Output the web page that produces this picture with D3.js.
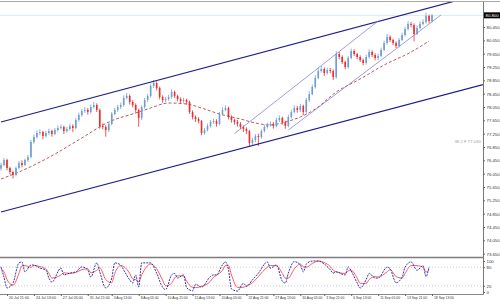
<!DOCTYPE html>
<html>
<head>
<meta charset="utf-8">
<script src="https://cdn.jsdelivr.net/npm/d3@7"></script>
<style>
  body { margin: 0; background: #fff; }
  svg { display: block; font-family: "Liberation Sans", Arial, sans-serif; }
  .axis text { font-size: 4.3px; fill: #333; }
  .axis line { stroke: #666; }
</style>
</head>
<body>
<div id="chart"></div>
<script>
"use strict";

// 4h candles (open of each bar is the previous close)
var firstOpen = 76.20;
var closes = [
  76.31, 76.46, 76.22, 76.10, 76.01, 76.22, 76.37, 76.31, 76.46, 76.55,
  77.00, 77.15, 77.27, 77.30, 77.18, 77.27, 77.33, 77.24, 77.36, 77.42,
  77.45, 77.33, 77.39, 77.48, 77.42, 77.66, 77.81, 77.93, 77.96, 77.90,
  78.05, 78.11, 77.96, 77.48, 77.45, 77.36, 77.54, 77.84, 77.96, 78.05,
  78.11, 78.32, 78.38, 78.20, 78.11, 77.96, 77.72, 78.05, 78.26, 78.38,
  78.68, 78.77, 78.62, 78.35, 78.26, 78.29, 78.35, 78.50, 78.38, 78.29,
  78.23, 78.26, 78.20, 77.90, 77.75, 77.69, 77.63, 77.27, 77.36, 77.48,
  77.60, 77.63, 77.54, 77.84, 77.96, 78.02, 77.75, 77.66, 77.60, 77.54,
  77.45, 77.39, 77.33, 76.97, 77.06, 77.18, 77.15, 77.33, 77.45, 77.51,
  77.54, 77.48, 77.66, 77.72, 77.60, 77.48, 77.75, 77.90, 78.02, 77.96,
  78.08, 77.90, 78.26, 78.44, 78.65, 78.92, 79.13, 79.19, 79.07, 79.16,
  79.13, 78.95, 79.64, 79.55, 79.40, 79.25, 79.52, 79.73, 79.64, 79.55,
  79.46, 79.37, 79.55, 79.70, 79.61, 79.52, 79.58, 79.76, 79.97, 80.15,
  80.06, 79.97, 79.88, 80.06, 80.21, 80.39, 80.54, 80.51, 80.24, 80.42,
  80.54, 80.60, 80.78, 80.63, 80.80
];
var highs = [
  76.38, 76.52, 76.50, 76.26, 76.14, 76.27, 76.43, 76.45, 76.50, 76.62,
  77.06, 77.22, 77.35, 77.38, 77.34, 77.33, 77.40, 77.37, 77.42, 77.50,
  77.52, 77.49, 77.45, 77.55, 77.53, 77.72, 77.88, 78.00, 78.05, 78.02,
  78.12, 78.20, 78.16, 78.00, 77.56, 77.50, 77.60, 77.90, 78.03, 78.12,
  78.18, 78.40, 78.47, 78.43, 78.26, 78.16, 78.00, 78.10, 78.32, 78.45,
  78.75, 78.86, 78.82, 78.66, 78.40, 78.36, 78.42, 78.58, 78.54, 78.42,
  78.34, 78.33, 78.30, 78.24, 77.95, 77.80, 77.74, 77.66, 77.42, 77.55,
  77.66, 77.70, 77.68, 77.90, 78.04, 78.10, 78.06, 77.80, 77.70, 77.66,
  77.60, 77.50, 77.44, 77.36, 77.12, 77.24, 77.25, 77.38, 77.52, 77.58,
  77.62, 77.60, 77.73, 77.80, 77.76, 77.64, 77.82, 77.97, 78.10, 78.08,
  78.15, 78.12, 78.32, 78.52, 78.72, 79.00, 79.22, 79.28, 79.24, 79.23,
  79.22, 79.18, 79.72, 79.70, 79.60, 79.44, 79.58, 79.80, 79.78, 79.68,
  79.60, 79.50, 79.62, 79.78, 79.75, 79.66, 79.65, 79.83, 80.04, 80.24,
  80.20, 80.10, 80.02, 80.12, 80.28, 80.46, 80.62, 80.60, 80.56, 80.50,
  80.62, 80.68, 80.88, 80.82, 80.84
];
var lows = [
  76.14, 76.27, 76.15, 76.02, 75.90, 75.97, 76.18, 76.24, 76.28, 76.40,
  76.51, 76.95, 77.10, 77.20, 77.08, 77.13, 77.22, 77.16, 77.20, 77.31,
  77.37, 77.24, 77.28, 77.34, 77.30, 77.38, 77.61, 77.76, 77.87, 77.82,
  77.85, 78.00, 77.90, 77.40, 77.38, 77.16, 77.30, 77.50, 77.80, 77.90,
  77.99, 78.06, 78.28, 78.12, 78.04, 77.88, 77.46, 77.66, 78.00, 78.20,
  78.33, 78.62, 78.55, 78.28, 78.18, 78.20, 78.24, 78.30, 78.32, 78.22,
  78.16, 78.18, 78.12, 77.84, 77.68, 77.60, 77.56, 77.20, 77.22, 77.32,
  77.43, 77.55, 77.46, 77.50, 77.80, 77.92, 77.68, 77.58, 77.52, 77.46,
  77.38, 77.30, 77.24, 76.85, 76.90, 77.00, 76.88, 77.10, 77.28, 77.40,
  77.46, 77.40, 77.44, 77.60, 77.52, 77.40, 77.44, 77.70, 77.86, 77.88,
  77.90, 77.80, 77.86, 78.20, 78.40, 78.60, 78.88, 79.08, 78.98, 79.02,
  79.06, 78.86, 78.90, 79.48, 79.34, 79.18, 79.20, 79.48, 79.58, 79.48,
  79.40, 79.30, 79.32, 79.50, 79.55, 79.45, 79.46, 79.54, 79.72, 79.92,
  80.00, 79.90, 79.82, 79.84, 80.02, 80.16, 80.34, 80.44, 80.02, 80.20,
  80.38, 80.50, 80.55, 80.56, 80.58
];
var lastPrice = 80.80;

// moving average, read at a few bars
var maBars = [0, 6, 15, 27, 36, 45, 50, 56, 62, 67, 73, 80, 85, 90, 95, 100, 105, 112, 120, 128, 137, 143];
var maValues = [75.89, 76.10, 76.49, 77.12, 77.60, 77.87, 78.02, 78.17, 78.14, 78.02, 77.84,
  77.69, 77.57, 77.51, 77.60, 77.75, 77.99, 78.50, 78.89, 79.31, 79.70, 80.03];

// drawn lines: [bar, price] anchors
var channelTop = [[0, 77.60], [140, 80.95]];
var channelBottom = [[0, 74.90], [140, 78.22]];
var trendUpper = [[78, 77.25], [126, 80.63]];
var trendLower = [[96, 77.36], [147, 80.81]];
var fibLabel = "38.2 F";
var fibPrice = 77.03;

// stochastic oscillator
var stochBars = [0, 1, 2, 4, 6, 7, 8, 10, 11, 13, 15, 16, 17, 20, 21, 23, 25, 27, 29, 30,
  32, 33, 35, 37, 38, 40, 41, 43, 44, 45, 46, 47, 50, 52, 54, 55, 57, 58, 59, 61,
  62, 64, 65, 67, 70, 71, 72, 74, 75, 76, 77, 79, 81, 82, 84, 86, 89, 90, 92, 94,
  95, 96, 98, 100, 101, 102, 104, 106, 108, 110, 111, 112, 115, 116, 117, 119, 120, 122, 123, 125,
  126, 129, 130, 132, 134, 135, 137, 139, 141, 142, 143];
var stochK = [81, 48, 13, 29, 94, 97, 65, 87, 87, 77, 71, 45, 32, 77, 55, 61, 65, 81, 71, 48,
  94, 65, 13, 45, 94, 87, 71, 39, 29, 55, 16, 94, 94, 61, 15, 8, 55, 60, 45, 55,
  14, 4, 25, 16, 50, 55, 55, 88, 97, 72, 10, 3, 28, 18, 39, 61, 97, 77, 87, 35,
  29, 61, 98, 88, 65, 90, 100, 100, 90, 72, 61, 65, 55, 81, 68, 29, 13, 40, 60, 45,
  45, 80, 75, 30, 48, 80, 97, 70, 85, 50, 81];
var stochD = [75, 65, 40, 22, 60, 85, 85, 80, 85, 82, 74, 60, 45, 55, 62, 60, 63, 72, 75, 62,
  70, 78, 40, 30, 60, 85, 82, 60, 42, 40, 33, 55, 90, 75, 38, 20, 28, 45, 52, 52,
  35, 15, 14, 18, 35, 48, 54, 70, 85, 85, 55, 15, 15, 20, 30, 50, 80, 85, 85, 60,
  45, 45, 75, 90, 82, 80, 92, 100, 95, 82, 70, 65, 60, 68, 70, 45, 28, 28, 40, 50,
  48, 65, 72, 50, 45, 60, 85, 85, 80, 65, 70];
var stochLevels = [80, 20];
var stochTicks = [100, 80, 20, 0];

var priceTicks = [80.45, 80.05, 79.65, 79.25, 78.85, 78.45, 78.05, 77.65, 77.25,
  76.85, 76.45, 76.05, 75.65, 75.25, 74.85, 74.45, 74.05, 73.65];
var timeLabelBars = [2, 11, 20, 29, 37, 46, 55, 64, 73, 82, 91, 100, 108, 117, 126, 135, 144];
var timeLabels = ["20 Jul 21:00", "24 Jul 13:00", "27 Jul 05:00", "31 Jul 21:00", "3 Aug 13:00",
  "8 Aug 05:00", "10 Aug 21:00", "15 Aug 13:00", "20 Aug 05:00", "22 Aug 21:00", "27 Aug 13:00",
  "30 Aug 05:00", "3 Sep 21:00", "6 Sep 13:00", "11 Sep 05:00", "13 Sep 21:00", "18 Sep 13:00"];

var W = 500, H = 304;
var plotRight = 483, mainTop = 2, mainBottom = 256, axisY = 294;
var upColor = "#6e9dd3", downColor = "#ee2b2b";

var x = d3.scaleLinear().domain([0, closes.length - 1]).range([1, 432]);
var y = d3.scaleLinear().domain([73.58, 81.26]).range([256, 0]);
var ys = d3.scaleLinear().domain([0, 100]).range([292, 261]);

var svg = d3.select("#chart").append("svg").attr("width", W).attr("height", H);

svg.append("clipPath").attr("id", "clipMain").append("rect")
  .attr("x", 0).attr("y", mainTop).attr("width", plotRight).attr("height", mainBottom - mainTop);

// frame
svg.append("line").attr("x1", 0).attr("x2", W).attr("y1", 1.5).attr("y2", 1.5)
  .attr("stroke", "#a8a8a8").attr("stroke-width", 1);
svg.append("line").attr("x1", 0).attr("x2", plotRight).attr("y1", 257.5).attr("y2", 257.5)
  .attr("stroke", "#7c7c7c").attr("stroke-width", 1.4);
svg.append("line").attr("x1", 0).attr("x2", plotRight + 0.5).attr("y1", axisY + 0.5).attr("y2", axisY + 0.5)
  .attr("stroke", "#888").attr("stroke-width", 1);
svg.append("line").attr("x1", plotRight + 0.5).attr("x2", plotRight + 0.5).attr("y1", mainTop).attr("y2", axisY + 0.5)
  .attr("stroke", "#777").attr("stroke-width", 1);

var main = svg.append("g").attr("clip-path", "url(#clipMain)");

// bid line
main.append("line").attr("x1", 0).attr("x2", plotRight).attr("y1", y(lastPrice)).attr("y2", y(lastPrice))
  .attr("stroke", "#d3eaf8").attr("stroke-width", 1);

// moving average
var maLine = d3.line().x(function (d) { return x(d[0]); }).y(function (d) { return y(d[1]); })
  .curve(d3.curveMonotoneX);
main.append("path").datum(d3.zip(maBars, maValues)).attr("d", maLine)
  .attr("fill", "none").attr("stroke", "#b04848").attr("stroke-width", 0.9).attr("stroke-dasharray", "3,2");

// candles
var bars = closes.map(function (c, i) {
  return { i: i, o: i ? closes[i - 1] : firstOpen, h: highs[i], l: lows[i], c: c };
});
function barColor(d) { return d.c >= d.o ? upColor : downColor; }

main.selectAll("line.wick").data(bars).join("line").attr("class", "wick")
  .attr("x1", function (d) { return x(d.i); }).attr("x2", function (d) { return x(d.i); })
  .attr("y1", function (d) { return y(d.h); }).attr("y2", function (d) { return y(d.l); })
  .attr("stroke", barColor).attr("stroke-width", 0.8);
main.selectAll("rect.body").data(bars).join("rect").attr("class", "body")
  .attr("x", function (d) { return x(d.i) - 0.8; }).attr("width", 1.6)
  .attr("y", function (d) { return y(Math.max(d.o, d.c)); })
  .attr("height", function (d) { return Math.max(0.8, Math.abs(y(d.o) - y(d.c))); })
  .attr("fill", barColor);

// trend lines
function extend(p, bar) {
  var k = (p[1][1] - p[0][1]) / (p[1][0] - p[0][0]);
  return [p[0], [bar, p[0][1] + k * (bar - p[0][0])]];
}
var seg = d3.line().x(function (d) { return x(d[0]); }).y(function (d) { return y(d[1]); });
var rightBar = x.invert(plotRight);
[extend(channelTop, rightBar), extend(channelBottom, rightBar)].forEach(function (p) {
  main.append("path").datum(p).attr("d", seg).attr("fill", "none")
    .attr("stroke", "#1d1d8c").attr("stroke-width", 1.2);
});
[trendUpper, trendLower].forEach(function (p) {
  main.append("path").datum(p).attr("d", seg).attr("fill", "none")
    .attr("stroke", "#8484dc").attr("stroke-width", 0.8);
});

svg.append("text").attr("x", 481).attr("y", y(fibPrice) + 1.5).attr("text-anchor", "end")
  .style("font-size", "4.3px").attr("fill", "#a0a0a0")
  .text(fibLabel + " " + fibPrice.toFixed(3));

// price axis
var yAxis = d3.axisRight(y).tickValues(priceTicks).tickFormat(d3.format(".3f")).tickSize(2).tickSizeOuter(0);
var gy = svg.append("g").attr("class", "axis").attr("transform", "translate(" + plotRight + ",0)").call(yAxis);
gy.select(".domain").remove();
gy.selectAll("text").attr("x", 3.5);

var tagY = y(lastPrice);
svg.append("rect").attr("x", plotRight + 1).attr("y", tagY - 3).attr("width", 16).attr("height", 6).attr("fill", "#000");
svg.append("text").attr("x", plotRight + 2.5).attr("y", tagY + 1.6).style("font-size", "4.3px").attr("fill", "#fff")
  .text(lastPrice.toFixed(3));

// stochastic panel
stochLevels.forEach(function (v) {
  svg.append("line").attr("x1", 0).attr("x2", plotRight).attr("y1", ys(v)).attr("y2", ys(v))
    .attr("stroke", "#c4c4c4").attr("stroke-width", 0.8).attr("stroke-dasharray", "1,2");
});
var stochLine = d3.line().x(function (d) { return x(d[0]); }).y(function (d) { return ys(d[1]); })
  .curve(d3.curveMonotoneX);
svg.append("path").datum(d3.zip(stochBars, stochD)).attr("d", stochLine)
  .attr("fill", "none").attr("stroke", "#ff5a5a").attr("stroke-width", 1);
svg.append("path").datum(d3.zip(stochBars, stochK)).attr("d", stochLine)
  .attr("fill", "none").attr("stroke", "#3535b3").attr("stroke-width", 1).attr("stroke-dasharray", "2,1");

var sAxis = d3.axisRight(ys).tickValues(stochTicks).tickFormat(d3.format("d")).tickSize(2).tickSizeOuter(0);
var gs = svg.append("g").attr("class", "axis").attr("transform", "translate(" + plotRight + ",0)").call(sAxis);
gs.select(".domain").remove();
gs.selectAll("text").attr("x", 3.5);

// time axis, labels squeezed like the terminal's small font
var xAxis = d3.axisBottom(x).tickValues(timeLabelBars)
  .tickFormat(function (d, i) { return timeLabels[i]; }).tickSize(2).tickSizeOuter(0);
var gx = svg.append("g").attr("class", "axis").attr("transform", "translate(0," + axisY + ")").call(xAxis);
gx.select(".domain").remove();
gx.selectAll("text").attr("text-anchor", "start").attr("x", 1.5).attr("y", 2.2)
  .attr("textLength", function (d, i) { return timeLabels[i].length > 11 ? 20 : 18; })
  .attr("lengthAdjust", "spacingAndGlyphs");
</script>
</body>
</html>
